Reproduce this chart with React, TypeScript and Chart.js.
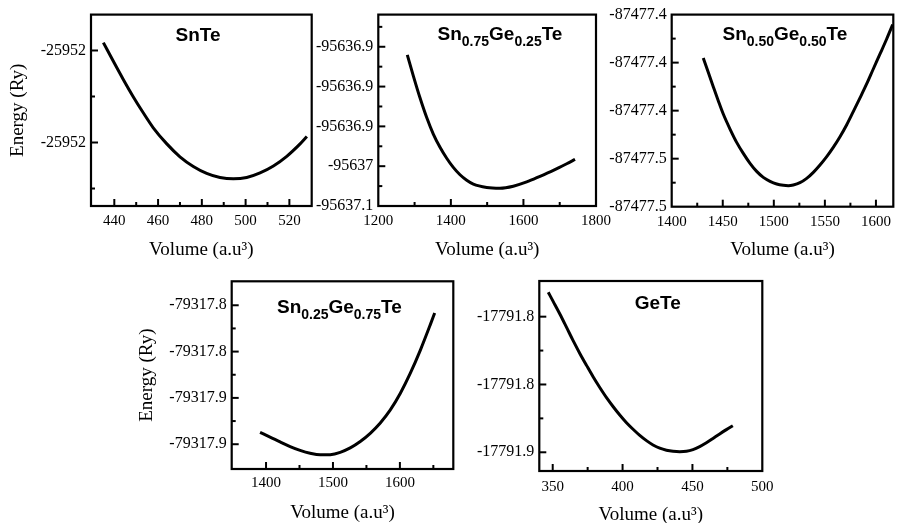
import React, { useEffect, useRef } from 'react';
import { Chart, registerables } from 'chart.js';

Chart.register(...registerables);

// ---------- SnTe ----------
const snTeVolume = [435.0, 439.5, 444.1, 448.7, 453.3, 457.8, 464.0, 470.0, 476.1, 482.2, 488.3, 494.4, 500.5, 506.6, 512.7, 518.8, 524.9, 528.0];
const snTeEnergy = [-25951.9783, -25951.9823, -25951.9863, -25951.9901, -25951.9936, -25951.9968, -25952.0003, -25952.0031, -25952.0052, -25952.0067, -25952.0076, -25952.0079, -25952.0076, -25952.0066, -25952.0051, -25952.003, -25952.0003, -25951.9987];
const snTeXMajor = [440, 460, 480, 500, 520];
const snTeXLabels = ['440', '460', '480', '500', '520'];
const snTeXMinor = [450, 470, 490, 510];
const snTeYMajor = [-25952.0, -25951.98];
const snTeYLabels = ['-25952', '-25952'];
const snTeYMinor = [-25952.01, -25951.99];

// ---------- Sn0.75Ge0.25Te ----------
const sn75Volume = [1279.9, 1296.5, 1314.9, 1333.4, 1351.6, 1370.1, 1388.5, 1406.7, 1425.2, 1443.7, 1461.9, 1498.8, 1535.4, 1572.1, 1609.0, 1645.7, 1682.4, 1719.3, 1742.2];
const sn75Energy = [-95636.9101, -95636.9365, -95636.9641, -95636.9889, -95637.0096, -95637.0262, -95637.04, -95637.0515, -95637.0608, -95637.0677, -95637.0726, -95637.0767, -95637.0776, -95637.0751, -95637.0698, -95637.0627, -95637.0552, -95637.0469, -95637.0415];
const sn75XMajor = [1200, 1400, 1600, 1800];
const sn75XLabels = ['1200', '1400', '1600', '1800'];
const sn75XMinor = [1300, 1500, 1700];
const sn75YMajor = [-95637.1, -95637.05, -95637.0, -95636.95, -95636.9];
const sn75YLabels = ['-95637.1', '-95637', '-95636.9', '-95636.9', '-95636.9'];
const sn75YMinor = [-95637.075, -95637.025, -95636.975, -95636.925, -95636.875];

// ---------- Sn0.50Ge0.50Te ----------
const sn50Volume = [1430.9, 1435.8, 1440.7, 1445.6, 1450.5, 1457.1, 1463.6, 1470.1, 1476.7, 1483.2, 1489.7, 1496.3, 1502.8, 1509.3, 1514.2, 1519.1, 1525.6, 1532.2, 1538.7, 1545.2, 1551.8, 1558.2, 1564.8, 1571.4, 1577.8, 1584.4, 1590.9, 1597.4, 1604.0, 1610.5, 1616.4];
const sn50Energy = [-87477.3961, -87477.4081, -87477.42, -87477.4317, -87477.4428, -87477.4553, -87477.4664, -87477.4756, -87477.4839, -87477.4906, -87477.4956, -87477.4989, -87477.5011, -87477.5022, -87477.5025, -87477.5019, -87477.5, -87477.4964, -87477.4914, -87477.4853, -87477.4783, -87477.4706, -87477.4617, -87477.4517, -87477.4408, -87477.4294, -87477.4178, -87477.4053, -87477.3928, -87477.3803, -87477.3683];
const sn50XMajor = [1400, 1450, 1500, 1550, 1600];
const sn50XLabels = ['1400', '1450', '1500', '1550', '1600'];
const sn50XMinor = [1425, 1475, 1525, 1575];
const sn50YMajor = [-87477.52, -87477.48, -87477.44, -87477.4, -87477.36];
const sn50YLabels = ['-87477.5', '-87477.5', '-87477.4', '-87477.4', '-87477.4'];
const sn50YMinor = [-87477.5, -87477.46, -87477.42, -87477.38];

// ---------- Sn0.25Ge0.75Te ----------
const sn25Volume = [1391.1, 1406.0, 1421.0, 1436.0, 1450.9, 1465.9, 1480.9, 1495.9, 1510.8, 1525.8, 1540.8, 1555.7, 1570.7, 1585.7, 1600.7, 1615.6, 1630.6, 1645.6, 1652.0];
const sn25Energy = [-79317.9098, -79317.9138, -79317.918, -79317.922, -79317.9253, -79317.9278, -79317.9292, -79317.929, -79317.927, -79317.9232, -79317.9177, -79317.9106, -79317.9017, -79317.8904, -79317.876, -79317.8587, -79317.8387, -79317.8165, -79317.8066];
const sn25XMajor = [1400, 1500, 1600];
const sn25XLabels = ['1400', '1500', '1600'];
const sn25XMinor = [1450, 1550, 1650];
const sn25YMajor = [-79317.92, -79317.88, -79317.84, -79317.8];
const sn25YLabels = ['-79317.9', '-79317.9', '-79317.8', '-79317.8'];
const sn25YMinor = [-79317.9, -79317.86, -79317.82];

// ---------- GeTe ----------
const geTeVolume = [346.8, 350.4, 355.2, 360.0, 364.7, 369.5, 374.3, 379.0, 383.8, 388.5, 393.3, 398.0, 402.8, 407.5, 412.3, 417.1, 421.8, 426.6, 431.4, 436.1, 440.9, 445.7, 450.4, 455.2, 460.0, 464.7, 469.5, 474.3, 478.9];
const geTeEnergy = [-17791.782, -17791.7889, -17791.7982, -17791.8081, -17791.8179, -17791.8273, -17791.8361, -17791.8445, -17791.8524, -17791.8597, -17791.8664, -17791.8725, -17791.8782, -17791.883, -17791.8875, -17791.8914, -17791.8946, -17791.897, -17791.8985, -17791.8993, -17791.8996, -17791.8993, -17791.898, -17791.8958, -17791.893, -17791.8898, -17791.8865, -17791.8833, -17791.8804];
const geTeXMajor = [350, 400, 450, 500];
const geTeXLabels = ['350', '400', '450', '500'];
const geTeXMinor = [375, 425, 475];
const geTeYMajor = [-17791.9, -17791.85, -17791.8];
const geTeYLabels = ['-17791.9', '-17791.8', '-17791.8'];
const geTeYMinor = [-17791.875, -17791.825];

const xTitle = 'Volume (a.u³)';
const yTitle = 'Energy (Ry)';

type Part = { t: string; sub?: boolean };
type Rect = { left: number; top: number; width: number; height: number };
type Box = { left: number; top: number; right: number; bottom: number };

type PanelCfg = {
  canvas: Rect;
  box: Box;
  volume: number[];
  energy: number[];
  xRange: [number, number];
  yRange: [number, number];
  xMajor: number[];
  xLabels: string[];
  xMinor: number[];
  yMajor: number[];
  yLabels: string[];
  yMinor: number[];
  title: Part[];
  titleFx: number;
  titleDy: number;
  showYTitle: boolean;
  yTitlePad: number;
  xTitlePad: number;
  xTickPad: number;
};

const panels: PanelCfg[] = [
  {
    canvas: { left: 0, top: 0, width: 330, height: 262 },
    box: { left: 91, top: 10.7, right: 311.7, bottom: 206 },
    volume: snTeVolume, energy: snTeEnergy,
    xRange: [429.35, 530.2], yRange: [-25952.0138, -25951.9722],
    xMajor: snTeXMajor, xLabels: snTeXLabels, xMinor: snTeXMinor,
    yMajor: snTeYMajor, yLabels: snTeYLabels, yMinor: snTeYMinor,
    title: [{ t: 'SnTe' }], titleFx: 0.485, titleDy: 26.6,
    showYTitle: true, yTitlePad: 9, xTitlePad: 2.2, xTickPad: 6.5,
  },
  {
    canvas: { left: 296, top: 0, width: 330, height: 262 },
    box: { left: 378.3, top: 12.7, right: 596, bottom: 206 },
    volume: sn75Volume, energy: sn75Energy,
    xRange: [1200, 1800], yRange: [-95637.1, -95636.8596],
    xMajor: sn75XMajor, xLabels: sn75XLabels, xMinor: sn75XMinor,
    yMajor: sn75YMajor, yLabels: sn75YLabels, yMinor: sn75YMinor,
    title: [{ t: 'Sn' }, { t: '0.75', sub: true }, { t: 'Ge' }, { t: '0.25', sub: true }, { t: 'Te' }],
    titleFx: 0.559, titleDy: 25.6,
    showYTitle: false, yTitlePad: 0, xTitlePad: 2.2, xTickPad: 6.5,
  },
  {
    canvas: { left: 590, top: 0, width: 309, height: 262 },
    box: { left: 671.7, top: 14, right: 893.3, bottom: 206.7 },
    volume: sn50Volume, energy: sn50Energy,
    xRange: [1400, 1617], yRange: [-87477.52, -87477.36],
    xMajor: sn50XMajor, xLabels: sn50XLabels, xMinor: sn50XMinor,
    yMajor: sn50YMajor, yLabels: sn50YLabels, yMinor: sn50YMinor,
    title: [{ t: 'Sn' }, { t: '0.50', sub: true }, { t: 'Ge' }, { t: '0.50', sub: true }, { t: 'Te' }],
    titleFx: 0.511, titleDy: 25.3,
    showYTitle: false, yTitlePad: 0, xTitlePad: 2.2, xTickPad: 6,
  },
  {
    canvas: { left: 130, top: 262, width: 340, height: 261 },
    box: { left: 231.7, top: 281.3, right: 453.3, bottom: 469 },
    volume: sn25Volume, energy: sn25Energy,
    xRange: [1348.7, 1679.8], yRange: [-79317.9414, -79317.7793],
    xMajor: sn25XMajor, xLabels: sn25XLabels, xMinor: sn25XMinor,
    yMajor: sn25YMajor, yLabels: sn25YLabels, yMinor: sn25YMinor,
    title: [{ t: 'Sn' }, { t: '0.25', sub: true }, { t: 'Ge' }, { t: '0.75', sub: true }, { t: 'Te' }],
    titleFx: 0.486, titleDy: 32,
    showYTitle: true, yTitlePad: 7.4, xTitlePad: 0.6, xTickPad: 5.2,
  },
  {
    canvas: { left: 455, top: 262, width: 335, height: 261 },
    box: { left: 539.3, top: 281, right: 762.3, bottom: 471 },
    volume: geTeVolume, energy: geTeEnergy,
    xRange: [340.4, 500], yRange: [-17791.9138, -17791.7737],
    xMajor: geTeXMajor, xLabels: geTeXLabels, xMinor: geTeXMinor,
    yMajor: geTeYMajor, yLabels: geTeYLabels, yMinor: geTeYMinor,
    title: [{ t: 'GeTe' }], titleFx: 0.531, titleDy: 28.3,
    showYTitle: false, yTitlePad: 0, xTitlePad: -1.8, xTickPad: 6.6,
  },
];

const SERIF = '"Liberation Serif", "DejaVu Serif", serif';
const SANS = '"Liberation Sans", Arial, sans-serif';

function Panel({ cfg }: { cfg: PanelCfg }) {
  const ref = useRef<HTMLCanvasElement | null>(null);

  useEffect(() => {
    const canvas = ref.current;
    if (!canvas) return;
    const { box, canvas: cv } = cfg;

    const framePlugin = {
      id: 'frameTicks',
      afterDraw(chart: any) {
        const { ctx, chartArea } = chart;
        const { left, top, right, bottom } = chartArea;
        const xs = chart.scales.x;
        const ys = chart.scales.y;
        ctx.save();
        ctx.strokeStyle = '#000';
        ctx.lineWidth = 2.2;
        ctx.strokeRect(left, top, right - left, bottom - top);
        ctx.lineWidth = 2;
        const drawX = (vals: number[], len: number) => {
          vals.forEach((v) => {
            const p = xs.getPixelForValue(v);
            if (p <= left + 1 || p >= right - 1) return;
            ctx.beginPath();
            ctx.moveTo(p, bottom);
            ctx.lineTo(p, bottom - len);
            ctx.stroke();
          });
        };
        const drawY = (vals: number[], len: number) => {
          vals.forEach((v) => {
            const p = ys.getPixelForValue(v);
            if (p <= top + 1 || p >= bottom - 1) return;
            ctx.beginPath();
            ctx.moveTo(left, p);
            ctx.lineTo(left + len, p);
            ctx.stroke();
          });
        };
        drawX(cfg.xMajor, 7);
        drawX(cfg.xMinor, 4);
        drawY(cfg.yMajor, 7);
        drawY(cfg.yMinor, 4);

        // panel title with subscripts
        const mainFont = `bold 19px ${SANS}`;
        const subFont = `bold 14px ${SANS}`;
        let total = 0;
        cfg.title.forEach((p) => {
          ctx.font = p.sub ? subFont : mainFont;
          total += ctx.measureText(p.t).width;
        });
        let x = left + cfg.titleFx * (right - left) - total / 2;
        const base = top + cfg.titleDy;
        ctx.fillStyle = '#000';
        ctx.textBaseline = 'alphabetic';
        ctx.textAlign = 'left';
        cfg.title.forEach((p) => {
          ctx.font = p.sub ? subFont : mainFont;
          ctx.fillText(p.t, x, p.sub ? base + 6 : base);
          x += ctx.measureText(p.t).width;
        });
        ctx.restore();
      },
    };

    const chart = new Chart(canvas, {
      type: 'line',
      data: {
        datasets: [
          {
            data: cfg.volume.map((v, i) => ({ x: v, y: cfg.energy[i] })),
            borderColor: '#000',
            borderWidth: 3,
            pointRadius: 0,
            fill: false,
            cubicInterpolationMode: 'monotone',
          },
        ],
      },
      options: {
        animation: false,
        responsive: false,
        events: [],
        layout: {
          padding: {
            left: 0,
            top: box.top - cv.top,
            right: cv.left + cv.width - box.right,
            bottom: 0,
          },
        },
        plugins: { legend: { display: false }, tooltip: { enabled: false } },
        scales: {
          x: {
            type: 'linear',
            min: cfg.xRange[0],
            max: cfg.xRange[1],
            grid: { display: false, drawTicks: false },
            border: { display: false },
            afterBuildTicks: (s: any) => {
              s.ticks = cfg.xMajor.map((v) => ({ value: v }));
            },
            afterFit: (s: any) => {
              s.height = cv.top + cv.height - box.bottom;
            },
            ticks: {
              autoSkip: false,
              maxRotation: 0,
              minRotation: 0,
              padding: cfg.xTickPad,
              color: '#000',
              font: { family: SERIF, size: 15 },
              callback: (_v: any, i: number) => cfg.xLabels[i],
            },
            title: {
              display: true,
              text: xTitle,
              color: '#000',
              font: { family: SERIF, size: 19, lineHeight: 1 },
              padding: { top: 0, bottom: cfg.xTitlePad },
            },
          },
          y: {
            type: 'linear',
            min: cfg.yRange[0],
            max: cfg.yRange[1],
            grid: { display: false, drawTicks: false },
            border: { display: false },
            afterBuildTicks: (s: any) => {
              s.ticks = cfg.yMajor.map((v) => ({ value: v }));
            },
            afterFit: (s: any) => {
              s.width = box.left - cv.left;
            },
            ticks: {
              autoSkip: false,
              padding: 5,
              color: '#000',
              font: { family: SERIF, size: 16 },
              callback: (_v: any, i: number) => cfg.yLabels[i],
            },
            title: {
              display: cfg.showYTitle,
              text: yTitle,
              color: '#000',
              font: { family: SERIF, size: 19, lineHeight: 1 },
              padding: { top: cfg.yTitlePad, bottom: 0 },
            },
          },
        },
      } as any,
      plugins: [framePlugin],
    });
    return () => chart.destroy();
  }, [cfg]);

  const { canvas } = cfg;
  return (
    <canvas
      ref={ref}
      width={canvas.width}
      height={canvas.height}
      style={{
        position: 'absolute',
        left: canvas.left,
        top: canvas.top,
        width: canvas.width,
        height: canvas.height,
      }}
    />
  );
}

export default function App() {
  return (
    <div
      style={{
        position: 'absolute',
        left: 0,
        top: 0,
        width: 899,
        height: 523,
        background: '#fff',
        overflow: 'hidden',
      }}
    >
      {panels.map((p, i) => (
        <Panel key={i} cfg={p} />
      ))}
    </div>
  );
}
